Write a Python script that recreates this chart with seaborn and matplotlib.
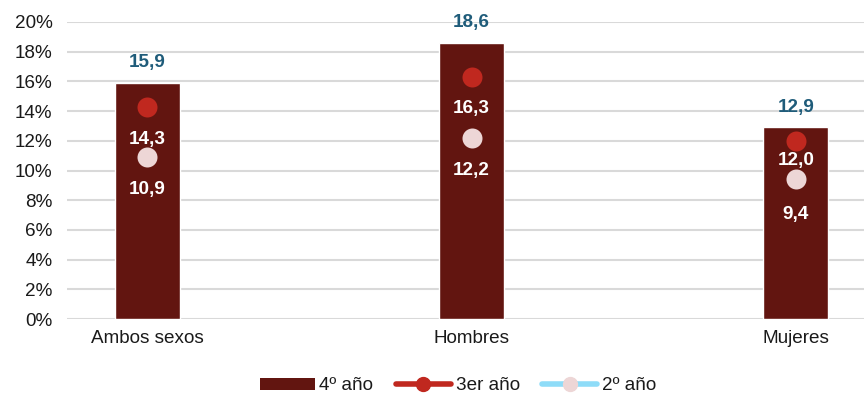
import matplotlib
matplotlib.use("Agg")
import matplotlib.pyplot as plt
import seaborn as sns
import pandas as pd
from matplotlib.lines import Line2D
from matplotlib.patches import Patch

categories = ["Ambos sexos", "Hombres", "Mujeres"]
cuarto = [15.9, 18.6, 12.9]
tercero = [14.3, 16.3, 12.0]
segundo = [10.9, 12.2, 9.4]
yticks = [0, 2, 4, 6, 8, 10, 12, 14, 16, 18, 20]

BAR = "#621510"
RED = "#C0281F"
PALE = "#EDD6D6"
BLUE_LINE = "#8EDCF8"
LABEL_BLUE = "#1F5C7A"

sns.set_theme(style="white")
plt.rcParams["font.family"] = ["Liberation Sans", "DejaVu Sans"]

df = pd.DataFrame({"cat": categories, "c4": cuarto, "c3": tercero, "c2": segundo})

fig = plt.figure(figsize=(8.64, 3.94), dpi=100)
ax = fig.add_axes([67 / 864, 1 - 319 / 394, 1 - 67 / 864, (319 - 22) / 394])

sns.barplot(data=df, x="cat", y="c4", color=BAR, width=0.2, saturation=1, ax=ax, zorder=2)
sns.stripplot(data=df, x="cat", y="c3", color=RED, jitter=False, size=14.4, linewidth=0, ax=ax, zorder=3)
sns.stripplot(data=df, x="cat", y="c2", color=PALE, jitter=False, size=14.4, linewidth=0, ax=ax, zorder=3)

ax.set_xlim(-0.248, 2.21)
ax.set_ylim(0, 20)
ax.set_yticks(yticks)
ax.set_yticklabels([f"{t}%" for t in yticks])
ax.yaxis.grid(True, color="#D9D9D9", linewidth=1.5, zorder=0)
ax.set_axisbelow(True)
for s in ax.spines.values():
    s.set_visible(False)
ax.set_xlabel("")
ax.set_ylabel("")
ax.tick_params(axis="both", length=0, labelsize=13.6, colors="#1A1A1A")
ax.tick_params(axis="x", pad=8)
ax.tick_params(axis="y", pad=10.5)

def fmt(v):
    return f"{v:.1f}".replace(".", ",")

px = 0.72
for i, v in enumerate(cuarto):
    ax.annotate(fmt(v), (i, v), xytext=(0, 20 * px), textcoords="offset points",
                ha="center", va="center", fontsize=13.6, fontweight="bold", color=LABEL_BLUE)
off3 = [33, 32, 20]
off2 = [32, 33, 35]
for i, v in enumerate(tercero):
    ax.annotate(fmt(v), (i, v), xytext=(0, -off3[i] * px), textcoords="offset points",
                ha="center", va="center", fontsize=13.6, fontweight="bold", color="white", zorder=4)
for i, v in enumerate(segundo):
    ax.annotate(fmt(v), (i, v), xytext=(0, -off2[i] * px), textcoords="offset points",
                ha="center", va="center", fontsize=13.6, fontweight="bold", color="white", zorder=4)

handles = [
    Patch(facecolor=BAR, edgecolor="none"),
    Line2D([], [], color=RED, linewidth=4, marker="o", markersize=10, solid_capstyle="round"),
    Line2D([], [], color=BLUE_LINE, linewidth=4, marker="o", markersize=10,
           markerfacecolor=PALE, markeredgecolor=PALE, solid_capstyle="round"),
]
leg = fig.legend(handles, ["4º año", "3er año", "2º año"], loc="center",
                 bbox_to_anchor=(458 / 864, 1 - 386 / 394), ncol=3, frameon=False,
                 fontsize=13.6, handlelength=2.9, handleheight=0.55, handletextpad=0.25,
                 columnspacing=1.2)
for t in leg.get_texts():
    t.set_color("#1A1A1A")

fig.savefig("out.png", dpi=100)
